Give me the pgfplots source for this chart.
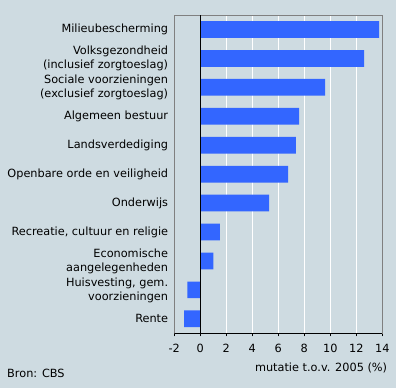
\documentclass[border=0pt]{standalone}
\usepackage{pgfplots}
\pgfplotsset{compat=1.18}
\usepackage{fontspec}
\setmainfont{DejaVu Sans}
\definecolor{bg}{HTML}{CEDBE1}
\definecolor{barblue}{HTML}{3366FF}
\definecolor{frame}{HTML}{808080}
\begin{document}
\begin{tikzpicture}
\fill[bg] (-174.3bp,-54.7bp) rectangle (221.7bp,333.3bp);
\begin{axis}[
  at={(0,0)}, anchor=south west,
  scale only axis,
  width=208bp, height=318.3bp,
  xbar, bar width=16.7bp, bar shift=0pt,
  xmin=-2, xmax=14, ymin=-0.5, ymax=10.5,
  y dir=reverse,
  xtick={-2,0,...,14},
  ytick={0,...,10},
  yticklabels={Milieubescherming,{Volksgezondheid\\(inclusief zorgtoeslag)},{Sociale voorzieningen\\(exclusief zorgtoeslag)},Algemeen bestuur,Landsverdediging,Openbare orde en veiligheid,Onderwijs,{Recreatie, cultuur en religie},{Economische\\aangelegenheden},{Huisvesting, gem.\\voorzieningen},Rente},
  font=\fontsize{11.3bp}{14bp}\selectfont,
  yticklabel style={align=right, inner sep=0pt, xshift=-3bp},
  xticklabel style={inner sep=0pt, anchor=center, yshift=-12bp},
  /pgf/number format/assume math mode=true,
  xmajorgrids, major grid style={white, line width=1bp},
  axis line style={frame, line width=1bp},
  xtick pos=bottom, ytick style={draw=none},
  x tick style={black, line width=0.8bp},
  tick align=outside, major tick length=3bp,
  xlabel={mutatie t.o.v. 2005 (\%)},
  xlabel style={at={(axis description cs:1,0)}, anchor=east, inner sep=0pt, xshift=5bp, yshift=-34.4bp},
]
\addplot[fill=barblue, draw=none] coordinates {
(13.75,0) (12.6,1) (9.6,2) (7.6,3) (7.35,4) (6.75,5) (5.3,6) (1.5,7) (1.0,8) (-1.0,9) (-1.25,10)};
\draw[black, line width=1bp] (axis cs:0,-0.5) -- (axis cs:0,10.5);
\draw[black, line width=1bp] (axis description cs:0,0) -- (axis description cs:1,0);
\end{axis}
\node[anchor=west, inner sep=0pt, font=\fontsize{11.3bp}{14bp}\selectfont] at (-167.3bp,-39.7bp) {Bron: CBS};
\pgfresetboundingbox
\useasboundingbox (-174.3bp,-54.7bp) rectangle (221.7bp,333.3bp);
\end{tikzpicture}
\end{document}
